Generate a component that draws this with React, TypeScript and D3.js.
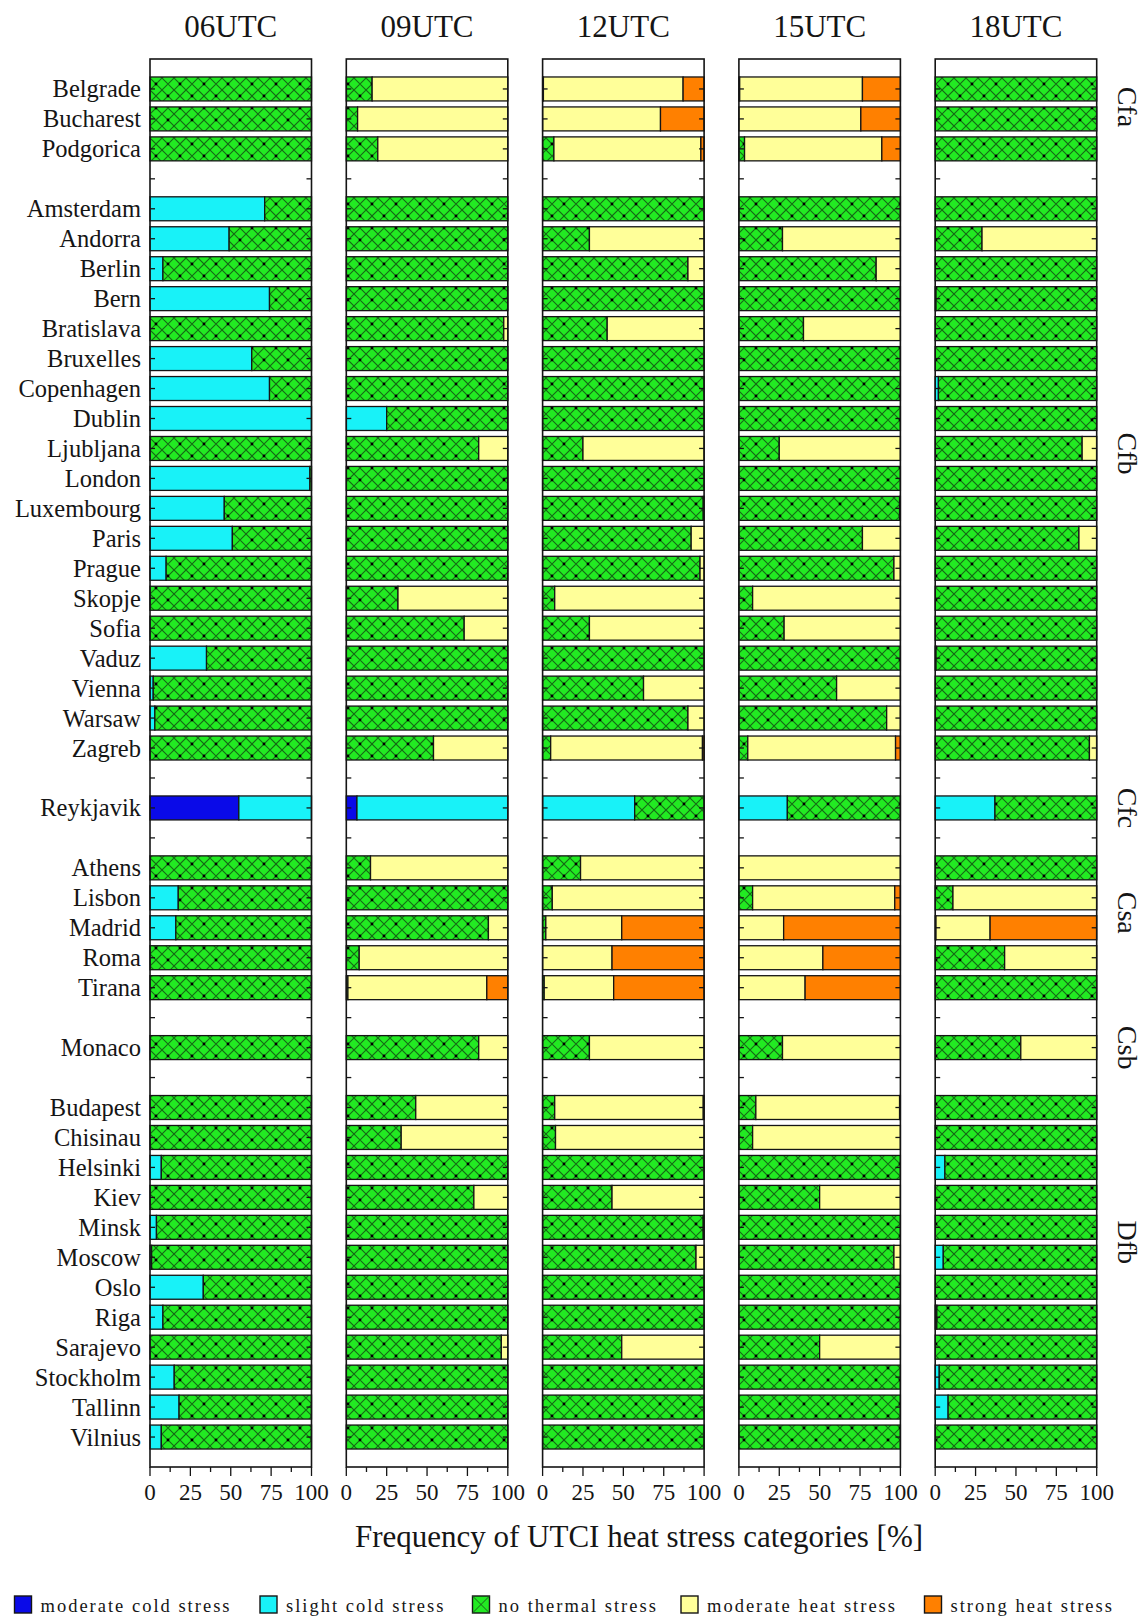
import React from "react";
import * as d3 from "d3";

const cities = [
  "Belgrade", "Bucharest", "Podgorica", "",
  "Amsterdam", "Andorra", "Berlin", "Bern", "Bratislava", "Bruxelles", "Copenhagen", "Dublin",
  "Ljubljana", "London", "Luxembourg", "Paris", "Prague", "Skopje", "Sofia", "Vaduz", "Vienna",
  "Warsaw", "Zagreb", "",
  "Reykjavik", "",
  "Athens", "Lisbon", "Madrid", "Roma", "Tirana", "",
  "Monaco", "",
  "Budapest", "Chisinau", "Helsinki", "Kiev", "Minsk", "Moscow", "Oslo", "Riga", "Sarajevo",
  "Stockholm", "Tallinn", "Vilnius",
];

const times = ["06UTC", "09UTC", "12UTC", "15UTC", "18UTC"];

const categories = [
  "moderate cold stress",
  "slight cold stress",
  "no thermal stress",
  "moderate heat stress",
  "strong heat stress",
];

const climates = [
  { name: "Cfa", from: "Belgrade", to: "Podgorica" },
  { name: "Cfb", from: "Amsterdam", to: "Zagreb" },
  { name: "Cfc", from: "Reykjavik", to: "Reykjavik" },
  { name: "Csa", from: "Athens", to: "Tirana" },
  { name: "Csb", from: "Monaco", to: "Monaco" },
  { name: "Dfb", from: "Budapest", to: "Vilnius" },
];

const xTickValues = [0, 25, 50, 75, 100];

// [moderate cold, slight cold, no thermal, moderate heat, strong heat] in %
const utc06 = [
  [0, 0, 100, 0, 0], [0, 0, 100, 0, 0], [0, 0, 100, 0, 0], null,
  [0, 71, 29, 0, 0], [0, 49, 51, 0, 0], [0, 8, 92, 0, 0], [0, 74, 26, 0, 0], [0, 0, 100, 0, 0],
  [0, 63, 37, 0, 0], [0, 74, 26, 0, 0], [0, 100, 0, 0, 0], [0, 0, 100, 0, 0], [0, 99, 1, 0, 0],
  [0, 46, 54, 0, 0], [0, 51, 49, 0, 0], [0, 10, 90, 0, 0], [0, 0, 100, 0, 0], [0, 0, 100, 0, 0],
  [0, 35, 65, 0, 0], [0, 2, 98, 0, 0], [0, 3, 97, 0, 0], [0, 0, 100, 0, 0], null,
  [55, 45, 0, 0, 0], null,
  [0, 0, 100, 0, 0], [0, 17.5, 82.5, 0, 0], [0, 16, 84, 0, 0], [0, 0, 100, 0, 0], [0, 0, 100, 0, 0], null,
  [0, 0, 100, 0, 0], null,
  [0, 0, 100, 0, 0], [0, 0, 100, 0, 0], [0, 7, 93, 0, 0], [0, 0, 100, 0, 0], [0, 4, 96, 0, 0],
  [0, 1, 99, 0, 0], [0, 33, 67, 0, 0], [0, 8, 92, 0, 0], [0, 0, 100, 0, 0], [0, 15, 85, 0, 0],
  [0, 18, 82, 0, 0], [0, 7, 93, 0, 0],
];

const utc09 = [
  [0, 0, 16, 84, 0], [0, 0, 7, 93, 0], [0, 0, 19.5, 80.5, 0], null,
  [0, 0, 100, 0, 0], [0, 0, 100, 0, 0], [0, 0, 100, 0, 0], [0, 0, 100, 0, 0], [0, 0, 97.5, 2.5, 0],
  [0, 0, 100, 0, 0], [0, 0, 100, 0, 0], [0, 25, 75, 0, 0], [0, 0, 82, 18, 0], [0, 0, 100, 0, 0],
  [0, 0, 100, 0, 0], [0, 0, 100, 0, 0], [0, 0, 100, 0, 0], [0, 0, 32, 68, 0], [0, 0, 73, 27, 0],
  [0, 0, 100, 0, 0], [0, 0, 100, 0, 0], [0, 0, 100, 0, 0], [0, 0, 54, 46, 0], null,
  [6.6, 93.4, 0, 0, 0], null,
  [0, 0, 15, 85, 0], [0, 0, 100, 0, 0], [0, 0, 88, 12, 0], [0, 0, 8, 92, 0], [0, 0, 1, 86, 13], null,
  [0, 0, 82, 18, 0], null,
  [0, 0, 43, 57, 0], [0, 0, 34, 66, 0], [0, 0, 100, 0, 0], [0, 0, 79, 21, 0], [0, 0, 100, 0, 0],
  [0, 0, 100, 0, 0], [0, 0, 100, 0, 0], [0, 0, 100, 0, 0], [0, 0, 96, 4, 0], [0, 0, 100, 0, 0],
  [0, 0, 100, 0, 0], [0, 0, 100, 0, 0],
];

const utc12 = [
  [0, 0, 0.5, 86.5, 13], [0, 0, 0, 73, 27], [0, 0, 7, 91, 2], null,
  [0, 0, 100, 0, 0], [0, 0, 29, 71, 0], [0, 0, 90, 10, 0], [0, 0, 100, 0, 0], [0, 0, 40, 60, 0],
  [0, 0, 100, 0, 0], [0, 0, 100, 0, 0], [0, 0, 100, 0, 0], [0, 0, 25, 75, 0], [0, 0, 100, 0, 0],
  [0, 0, 99.5, 0.5, 0], [0, 0, 92, 8, 0], [0, 0, 97.5, 2.5, 0], [0, 0, 7.5, 92.5, 0], [0, 0, 29, 71, 0],
  [0, 0, 100, 0, 0], [0, 0, 62.5, 37.5, 0], [0, 0, 90, 10, 0], [0, 0, 5, 94, 1], null,
  [0, 57, 43, 0, 0], null,
  [0, 0, 23.5, 76.5, 0], [0, 0, 6, 94, 0], [0, 0, 2, 47, 51], [0, 0, 0, 43, 57], [0, 0, 1, 43, 56], null,
  [0, 0, 29, 71, 0], null,
  [0, 0, 7.5, 92, 0.5], [0, 0, 8, 92, 0], [0, 0, 100, 0, 0], [0, 0, 43, 57, 0], [0, 0, 99.5, 0.5, 0],
  [0, 0, 95, 5, 0], [0, 0, 100, 0, 0], [0, 0, 100, 0, 0], [0, 0, 49, 51, 0], [0, 0, 100, 0, 0],
  [0, 0, 100, 0, 0], [0, 0, 100, 0, 0],
];

const utc15 = [
  [0, 0, 0.5, 76, 23.5], [0, 0, 0, 75.5, 24.5], [0, 0, 3.5, 85, 11.5], null,
  [0, 0, 100, 0, 0], [0, 0, 27, 73, 0], [0, 0, 85, 15, 0], [0, 0, 100, 0, 0], [0, 0, 40, 60, 0],
  [0, 0, 100, 0, 0], [0, 0, 100, 0, 0], [0, 0, 100, 0, 0], [0, 0, 25, 75, 0], [0, 0, 100, 0, 0],
  [0, 0, 99.5, 0.5, 0], [0, 0, 76.5, 23.5, 0], [0, 0, 96, 4, 0], [0, 0, 8.5, 91.5, 0], [0, 0, 28, 72, 0],
  [0, 0, 100, 0, 0], [0, 0, 60.5, 39.5, 0], [0, 0, 91.5, 8.5, 0], [0, 0, 5.5, 91.5, 3], null,
  [0, 30, 70, 0, 0], null,
  [0, 0, 0, 100, 0], [0, 0, 8.5, 88, 3.5], [0, 0, 0, 27.7, 72.3], [0, 0, 0, 52, 48], [0, 0, 0, 41, 59], null,
  [0, 0, 27, 73, 0], null,
  [0, 0, 10.5, 89, 0.5], [0, 0, 8.5, 91.5, 0], [0, 0, 100, 0, 0], [0, 0, 50, 50, 0], [0, 0, 100, 0, 0],
  [0, 0, 96, 4, 0], [0, 0, 100, 0, 0], [0, 0, 100, 0, 0], [0, 0, 50, 50, 0], [0, 0, 100, 0, 0],
  [0, 0, 100, 0, 0], [0, 0, 100, 0, 0],
];

const utc18 = [
  [0, 0, 100, 0, 0], [0, 0, 100, 0, 0], [0, 0, 100, 0, 0], null,
  [0, 0, 100, 0, 0], [0, 0, 29, 71, 0], [0, 0, 100, 0, 0], [0, 0.5, 99.5, 0, 0], [0, 0, 100, 0, 0],
  [0, 0, 100, 0, 0], [0, 2, 98, 0, 0], [0, 0, 100, 0, 0], [0, 0, 91, 9, 0], [0, 0, 100, 0, 0],
  [0, 0, 100, 0, 0], [0, 0, 89, 11, 0], [0, 0, 100, 0, 0], [0, 0, 100, 0, 0], [0, 0, 100, 0, 0],
  [0, 0.5, 99.5, 0, 0], [0, 0, 100, 0, 0], [0, 0, 100, 0, 0], [0, 0, 95.5, 4.5, 0], null,
  [0, 37, 63, 0, 0], null,
  [0, 0, 100, 0, 0], [0, 0, 11, 89, 0], [0, 0, 0.5, 33.5, 66], [0, 0, 43, 57, 0], [0, 0, 100, 0, 0], null,
  [0, 0, 53, 47, 0], null,
  [0, 0, 100, 0, 0], [0, 0, 100, 0, 0], [0, 6, 94, 0, 0], [0, 0, 100, 0, 0], [0, 0, 100, 0, 0],
  [0, 5, 95, 0, 0], [0, 0, 100, 0, 0], [0, 1, 99, 0, 0], [0, 0, 100, 0, 0], [0, 2.5, 97.5, 0, 0],
  [0, 8, 92, 0, 0], [0, 0, 100, 0, 0],
];

const panels = [utc06, utc09, utc12, utc15, utc18];

const W = 1148;
const H = 1616;
const FONT = "'Liberation Serif', 'Times New Roman', serif";
const fills = ["#0a0ae8", "#18f2f8", "url(#hatchGreen)", "#ffff99", "#ff8000"];
const INK = "#151515";
// vertical nudge (px) of the rotated climate labels relative to their group centre
const climateNudge = [-12, -25, 0, -15, 0, -30];

export default function App() {
  const y = d3.scaleLinear().domain([-1, cities.length]).range([59, 1467]);
  const pitch = y(1) - y(0);
  const barH = pitch * 0.8;
  const panelW = 161.5;
  const panelX = (i: number) => 150 + i * 196.3;
  const top = y(-1);
  const bottom = y(cities.length);
  const minorTicks = d3.range(0, 100.01, 12.5);
  const idx = (c: string) => cities.indexOf(c);

  const legendX = [14.5, 260, 472.5, 681, 924.5];

  return (
    <svg
      width={W}
      height={H}
      viewBox={`0 0 ${W} ${H}`}
      style={{ position: "absolute", left: 0, top: 0, background: "#fff" }}
      fontFamily={FONT}
    >
      <defs>
        <pattern id="hatchGreen" patternUnits="userSpaceOnUse" width={24} height={24}>
          <rect width={24} height={24} fill="#22ea22" />
          <path
            d={
              d3.range(-2, 2).map((k) => `M${12 * k},0L${12 * k + 24},24`).join("") +
              d3.range(1, 5).map((k) => `M${12 * k},0L${12 * k - 24},24`).join("")
            }
            stroke="#156a15"
            strokeWidth={1.15}
            fill="none"
          />
          <circle cx={0} cy={0} r={1.4} fill="#000" />
          <circle cx={24} cy={0} r={1.4} fill="#000" />
          <circle cx={0} cy={24} r={1.4} fill="#000" />
          <circle cx={24} cy={24} r={1.4} fill="#000" />
          <circle cx={12} cy={12} r={1.4} fill="#000" />
        </pattern>
      </defs>
      <rect width={W} height={H} fill="#fff" />

      {panels.map((rows, pi) => {
        const x0 = panelX(pi);
        const x = d3.scaleLinear().domain([0, 100]).range([x0, x0 + panelW]);
        return (
          <g key={times[pi]}>
            <text x={x(50)} y={37} textAnchor="middle" fontSize={31} fill={INK}>
              {times[pi]}
            </text>
            {rows.map((vals, ri) => {
              if (!vals) return null;
              let cum = 0;
              return (
                <g key={ri}>
                  {vals.map((v, ci) => {
                    const start = cum;
                    cum += v;
                    if (v <= 0) return null;
                    return (
                      <rect
                        key={ci}
                        x={x(start)}
                        y={y(ri) - barH / 2}
                        width={x(start + v) - x(start)}
                        height={barH}
                        fill={fills[ci]}
                        stroke={INK}
                        strokeWidth={1.3}
                      />
                    );
                  })}
                </g>
              );
            })}
            {cities.map((c, ri) => (
              <g key={"t" + ri} stroke={INK} strokeWidth={1.3}>
                <line x1={x0} x2={x0 + 5} y1={y(ri)} y2={y(ri)} />
                <line x1={x0 + panelW - 5} x2={x0 + panelW} y1={y(ri)} y2={y(ri)} />
              </g>
            ))}
            <rect
              x={x0}
              y={top}
              width={panelW}
              height={bottom - top}
              fill="none"
              stroke={INK}
              strokeWidth={1.6}
            />
            {minorTicks.map((t) => (
              <line
                key={"m" + t}
                x1={x(t)}
                x2={x(t)}
                y1={bottom}
                y2={bottom + (t % 25 === 0 ? 9 : 5)}
                stroke={INK}
                strokeWidth={1.3}
              />
            ))}
            {xTickValues.map((t) => (
              <text key={"l" + t} x={x(t)} y={1499.5} textAnchor="middle" fontSize={23} fill={INK}>
                {t}
              </text>
            ))}
          </g>
        );
      })}

      {cities.map((c, ri) =>
        c ? (
          <text key={c} x={141} y={y(ri) + 8.5} textAnchor="end" fontSize={24.5} fill={INK}>
            {c}
          </text>
        ) : null
      )}

      {climates.map((g, gi) => {
        const cy = (y(idx(g.from)) + y(idx(g.to))) / 2 + climateNudge[gi];
        return (
          <text
            key={g.name}
            transform={`translate(1118,${cy}) rotate(90)`}
            textAnchor="middle"
            fontSize={28}
            fill={INK}
          >
            {g.name}
          </text>
        );
      })}

      <text x={639} y={1547} textAnchor="middle" fontSize={31} fill={INK}>
        Frequency of UTCI heat stress categories [%]
      </text>

      {categories.map((c, i) => (
        <g key={c}>
          <rect
            x={legendX[i]}
            y={1596}
            width={17}
            height={17}
            fill={i === 2 ? "#22ea22" : fills[i]}
            stroke={INK}
            strokeWidth={1.4}
          />
          {i === 2 ? (
            <path
              d={`M${legendX[i]},1596L${legendX[i] + 17},1613M${legendX[i] + 17},1596L${legendX[i]},1613`}
              stroke="#1d5d1d"
              strokeWidth={1}
            />
          ) : null}
          <text x={legendX[i] + 26} y={1611.5} fontSize={18.5} letterSpacing={2} fill={INK}>
            {c}
          </text>
        </g>
      ))}
    </svg>
  );
}
